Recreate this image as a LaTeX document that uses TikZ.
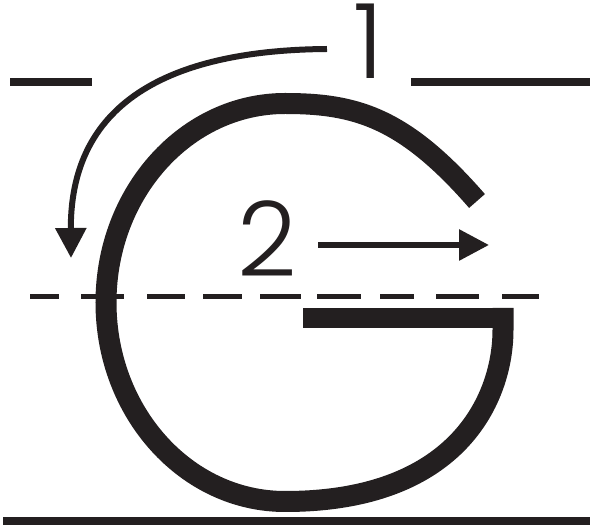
\documentclass[tikz,border=0pt]{standalone}
\usepackage{fontspec}
\newfontfamily\numfont{Poppins Light}
\usetikzlibrary{arrows.meta}
\definecolor{ink}{RGB}{35,31,32}
\begin{document}
\begin{tikzpicture}[x=1pt,y=-1pt,
  gline/.style={draw=ink,line width=21pt},
  rule/.style={draw=ink,line width=8pt},
  dashline/.style={draw=ink,line width=4.5pt},
  motion/.style={draw=ink,line width=6pt,-{Triangle[width=30pt,length=30pt]}},
  digit/.style={text=ink,font=\numfont\fontsize{104}{104}\selectfont,inner sep=0pt,anchor=base}]
\useasboundingbox (0,0) rectangle (590,529);
% guide lines
\draw[rule] (10,82) -- (92,82);
\draw[rule] (411,82) -- (590,82);
\draw[rule] (3,521) -- (590,521);
\draw[dashline] (30,296.5) -- (59,296.5) (81,296.5) -- (124,296.5)
  (147,296.5) -- (185,296.5) (203,296.5) -- (242,296.5)
  (260,296.5) -- (301,296.5) (317,296.5) -- (361,296.5)
  (380,296.5) -- (414,296.5) (436,296.5) -- (479,296.5)
  (502,296.5) -- (539,296.5);
% letter G
\coordinate (gtop) at (285,103.5);
\coordinate (gend) at (477,201);
\coordinate (gstem) at (503,308);
\draw[gline] (gend) .. controls (404,117) and (355,103.5) .. (gtop)
  arc[start angle=-90, end angle=-270, x radius=179, y radius=199]
  .. controls (461,501.5) and (503,395) .. (503,330) -- (gstem);
\fill[ink] (303,308) rectangle (513,328);
% stroke order arrows
\coordinate (s1) at (327,49);
\coordinate (e1) at (71,258);
\draw[motion] (s1) .. controls (190,50) and (70,90) .. (e1);
\coordinate (s2) at (318,245);
\coordinate (e2) at (489,245);
\draw[motion] (s2) -- (e2);
% numbers
\node[digit] (n1) at (369,79) {1};
\node[digit] (n2) at (267,277) {2};
\end{tikzpicture}
\end{document}
